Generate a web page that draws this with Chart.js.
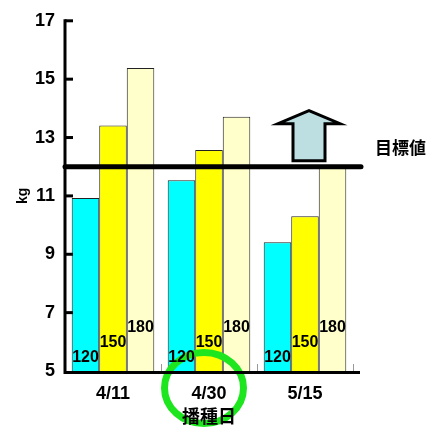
<!DOCTYPE html>
<html><head><meta charset="utf-8">
<script src="https://cdn.jsdelivr.net/npm/chart.js@4/dist/chart.umd.min.js"></script>
<style>html,body{margin:0;padding:0;background:#fff}</style>
</head><body>
<canvas id="c" width="435" height="427" style="display:block;width:435px;height:427px"></canvas>
<script>
const categories = ['4/11', '4/30', '5/15'];
const seriesNames = ['120', '150', '180'];
const s120 = [10.93, 11.54, 9.41];
const s150 = [13.41, 12.57, 10.30];
const s180 = [15.38, 13.71, 12.00];
const yTicks = [5, 7, 9, 11, 13, 15, 17];
const targetValue = 12.0;
const targetLabel = '目標値';
const xTitle = '播種日';
const yTitle = 'kg';

const colors = ['#00ffff', '#ffff00', '#ffffcc'];
const latin = "'Liberation Sans', Arial, sans-serif";
const narrow = "'Liberation Sans Narrow', 'Arial Narrow', 'Liberation Sans', sans-serif";
const cjk = "'Noto Sans CJK JP', sans-serif";

const deco = {
  id: 'deco',
  afterDatasetsDraw(chart) {
    const ctx = chart.ctx, x = chart.scales.x, a = chart.chartArea;
    ctx.save();
    // small grey marks at category boundaries
    ctx.strokeStyle = '#999';
    ctx.lineWidth = 1;
    for (let i = 1; i <= categories.length; i++) {
      const px = Math.round((x.getPixelForValue(i - 1) + (i < categories.length ? x.getPixelForValue(i) : 2 * x.getPixelForValue(i - 1) - x.getPixelForValue(i - 2))) / 2) + 0.5;
      ctx.beginPath(); ctx.moveTo(px, a.bottom); ctx.lineTo(px, a.bottom - 7); ctx.stroke();
    }
    // green ring around the 2nd category label
    ctx.strokeStyle = '#1ee61e';
    ctx.lineWidth = 7;
    ctx.beginPath();
    ctx.ellipse(x.getPixelForValue(1) - 5, a.bottom + 17, 39.5, 35.5, 0, 0, Math.PI * 2);
    ctx.stroke();
    ctx.restore();
  },
  afterDraw(chart) {
    const ctx = chart.ctx, x = chart.scales.x, y = chart.scales.y, a = chart.chartArea;
    ctx.save();
    // target line
    const ty = y.getPixelForValue(targetValue);
    ctx.strokeStyle = '#000';
    ctx.lineCap = 'round';
    ctx.lineWidth = 5;
    ctx.beginPath(); ctx.moveTo(a.left, ty); ctx.lineTo(a.right + 8, ty); ctx.stroke();
    ctx.lineCap = 'butt';
    // axes
    ctx.lineWidth = 3;
    ctx.beginPath();
    ctx.moveTo(a.left, a.top - 1.5); ctx.lineTo(a.left, a.bottom + 1.5); ctx.lineTo(a.right + 7, a.bottom + 1.5);
    ctx.stroke();
    // inward ticks
    yTicks.forEach(v => {
      if (v === y.min) return;
      const py = y.getPixelForValue(v);
      ctx.beginPath(); ctx.moveTo(a.left, py); ctx.lineTo(a.left + 8, py); ctx.stroke();
    });
    // arrow
    const cx = x.getPixelForValue(2) + 4;
    const base = ty - 6;
    ctx.beginPath();
    ctx.moveTo(cx - 16, base);
    ctx.lineTo(cx - 16, base - 37);
    ctx.lineTo(cx - 31, base - 37);
    ctx.lineTo(cx, base - 50);
    ctx.lineTo(cx + 31, base - 37);
    ctx.lineTo(cx + 16, base - 37);
    ctx.lineTo(cx + 16, base);
    ctx.closePath();
    ctx.fillStyle = '#bddfe2';
    ctx.fill();
    ctx.lineJoin = 'miter';
    ctx.lineWidth = 3;
    ctx.stroke();
    // target label
    ctx.fillStyle = '#000';
    ctx.font = 'bold 17px ' + cjk;
    ctx.textAlign = 'left';
    ctx.textBaseline = 'middle';
    ctx.fillText(targetLabel, a.right + 22, ty - 19);
    // series labels on bars
    ctx.font = 'bold 16px ' + latin;
    ctx.textAlign = 'center';
    const offs = [13, 28, 43];
    chart.data.datasets.forEach((ds, i) => {
      chart.getDatasetMeta(i).data.forEach(bar => {
        ctx.fillText(ds.label, bar.x, a.bottom - offs[i]);
      });
    });
    ctx.restore();
  }
};

new Chart(document.getElementById('c'), {
  type: 'bar',
  data: {
    labels: categories,
    datasets: [s120, s150, s180].map((d, i) => ({
      label: seriesNames[i],
      data: d,
      backgroundColor: colors[i],
      borderColor: '#222',
      borderWidth: 1,
      borderSkipped: 'bottom',
      barPercentage: 1,
      categoryPercentage: 0.86
    }))
  },
  options: {
    responsive: false,
    animation: false,
    devicePixelRatio: 1,
    layout: { padding: { left: 0, right: 82, top: 16, bottom: 0 } },
    plugins: { legend: { display: false }, tooltip: { enabled: false } },
    scales: {
      x: {
        grid: { display: false, drawTicks: false, z: 2 },
        border: { display: false },
        ticks: { font: { family: latin, weight: 'bold', size: 18 }, color: '#000', padding: 12, z: 2 },
        title: { display: true, text: xTitle, font: { family: cjk, weight: 'bold', size: 18 }, color: '#000', padding: { top: 0, bottom: 0 } },
        afterFit(s) { s.height = 56; }
      },
      y: {
        min: 5, max: 17,
        afterBuildTicks(s) { s.ticks = yTicks.map(v => ({ value: v })); },
        grid: { display: false, drawTicks: false },
        border: { display: false },
        ticks: { font: { family: narrow, weight: 'bold', size: 18 }, color: '#000', padding: 10 },
        title: { display: true, text: yTitle, font: { family: latin, weight: 'bold', size: 14 }, color: '#000', padding: { top: 15, bottom: 0 } },
        afterFit(s) { s.width = 65; }
      }
    }
  },
  plugins: [deco]
});
</script>
</body></html>
